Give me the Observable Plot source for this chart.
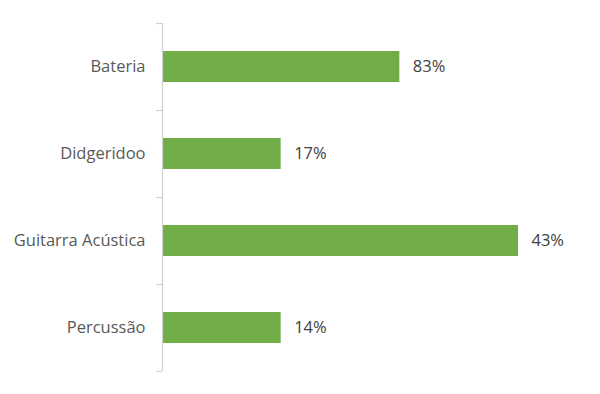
<!DOCTYPE html>
<html>
<head>
<meta charset="utf-8">
<script src="https://cdn.jsdelivr.net/npm/d3@7"></script>
<script src="https://cdn.jsdelivr.net/npm/@observablehq/plot@0.6"></script>
<style>
  html, body { margin: 0; padding: 0; background: #fff; }
  #chart svg { display: block; }
</style>
</head>
<body>
<div id="chart"></div>
<script>
const categories = ["Bateria", "Didgeridoo", "Guitarra Acústica", "Percussão"];
const values = [2, 1, 3, 1];
const labels = ["83%", "17%", "43%", "14%"];

const data = categories.map((c, i) => ({category: c, value: values[i], label: labels[i]}));
const font = "'Open Sans', 'Liberation Sans', sans-serif";

const chart = Plot.plot({
  width: 600,
  height: 394,
  marginLeft: 162,
  marginRight: 82,
  marginTop: 23,
  marginBottom: 23,
  style: {fontFamily: font, fontSize: "16.5px", background: "#fff"},
  x: {domain: [0, 3], axis: null},
  y: {domain: categories, paddingInner: 0.64, paddingOuter: 0.32, label: null},
  marks: [
    Plot.axisY({tickSize: 0, tickPadding: 17, fill: "#595959", fontSize: 16.5}),
    Plot.barX(data, {x: "value", y: "category", fill: "#70ad47"}),
    Plot.ruleX([0], {stroke: "#d0d0d0", strokeWidth: 1.2}),
    Plot.ruleY(categories, {y: d => d, x1: 0, x2: 0, insetLeft: -6, dy: -43.5, stroke: "#d0d0d0", strokeWidth: 1.2}),
    Plot.ruleY(categories.slice(-1), {y: d => d, x1: 0, x2: 0, insetLeft: -6, dy: 43.5, stroke: "#d0d0d0", strokeWidth: 1.2}),
    Plot.text(data, {x: "value", y: "category", text: "label", textAnchor: "start", dx: 13, fill: "#404040", fontSize: 16.5})
  ]
});
document.getElementById("chart").appendChild(chart);
</script>
</body>
</html>
